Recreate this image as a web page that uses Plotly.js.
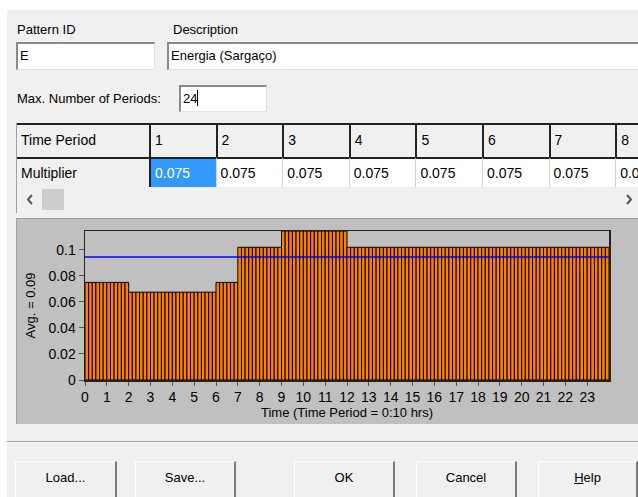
<!DOCTYPE html>
<html>
<head>
<meta charset="utf-8">
<script src="https://cdn.plot.ly/plotly-3.0.1.min.js"></script>
<style>
  html, body { margin:0; padding:0; width:638px; height:497px; overflow:hidden; background:#ffffff; font-family: Arial, "Liberation Sans", sans-serif; }
  #dlg { position:absolute; left:7px; top:10px; width:631px; height:487px; background:#f0f0f0; }
  .abs { position:absolute; }
  .lbl { position:absolute; font-size:13px; color:#000; white-space:nowrap; }
  .edit { position:absolute; background:#fff; box-sizing:border-box; border-top:2px solid #8a8a8a; border-left:2px solid #8a8a8a; border-bottom:1px solid #e3e3e3; border-right:1px solid #e3e3e3; font-size:13px; padding-left:2px; line-height:23px; white-space:nowrap; overflow:hidden; }
  .btn { position:absolute; box-sizing:border-box; background:#f0f0f0; border-top:1px solid #fff; border-left:1px solid #fff; border-right:2px solid #7a7a7a; border-bottom:2px solid #7a7a7a; font-size:13px; text-align:center; line-height:32px; }
  .cell { position:absolute; box-sizing:border-box; font-size:14px; white-space:nowrap; overflow:hidden; padding-left:4px; }
</style>
</head>
<body>
<div id="dlg"></div>
<div class="lbl" style="left:17px; top:22px;">Pattern ID</div>
<div class="lbl" style="left:173px; top:22px;">Description</div>
<div class="edit" style="left:16px; top:42px; width:139px; height:28px;">E</div>
<div class="edit" style="left:167px; top:42px; width:480px; height:28px;">Energia (Sargaço)</div>
<div class="lbl" style="left:17px; top:91px;">Max. Number of Periods:</div>
<div class="edit" style="left:179px; top:85px; width:88px; height:27px;">24<span style="display:inline-block;width:1px;height:16px;background:#000;vertical-align:-3px;"></span></div>

<div id="grid" class="abs" style="left:16px; top:123px; width:622px; height:90px; overflow:hidden; background:#f0f0f0; border-left:1px solid #a0a0a0; box-sizing:border-box;"></div>

<div id="chart" class="abs" style="left:16px; top:218px; width:622px; height:206px; background:#c0c0c0; border-top:1px solid #a0a0a0; border-left:1px solid #a0a0a0; box-sizing:border-box;"></div>

<div class="abs" style="left:7px; top:441px; width:631px; height:1px; background:#a0a0a0;"></div>
<div class="abs" style="left:7px; top:442px; width:631px; height:1px; background:#ffffff;"></div>

<div class="btn" style="left:15px; top:461px; width:102px; height:38px;">Load...</div>
<div class="btn" style="left:135px; top:461px; width:101px; height:38px;">Save...</div>
<div class="btn" style="left:294px; top:461px; width:101px; height:38px;">OK</div>
<div class="btn" style="left:416px; top:461px; width:101px; height:38px;">Cancel</div>
<div class="btn" style="left:538px; top:461px; width:100px; height:38px;"><u>H</u>elp</div>

<script>
// ---- Data ----
var patternId = "E";
var description = "Energia (Sargaço)";
var maxPeriods = 24;
var periodHours = 1/6; // 0:10 hrs
var multipliers = [
  0.075,0.075,0.075,0.075,0.075,0.075, 0.075,0.075,0.075,0.075,0.075,0.075,
  0.0675,0.0675,0.0675,0.0675,0.0675,0.0675, 0.0675,0.0675,0.0675,0.0675,0.0675,0.0675,
  0.0675,0.0675,0.0675,0.0675,0.0675,0.0675, 0.0675,0.0675,0.0675,0.0675,0.0675,0.0675,
  0.075,0.075,0.075,0.075,0.075,0.075,
  0.102,0.102,0.102,0.102,0.102,0.102, 0.102,0.102,0.102,0.102,0.102,0.102,
  0.1145,0.1145,0.1145,0.1145,0.1145,0.1145, 0.1145,0.1145,0.1145,0.1145,0.1145,0.1145,
  0.1145,0.1145,0.1145,0.1145,0.1145,0.1145,
  0.102,0.102,0.102,0.102,0.102,0.102, 0.102,0.102,0.102,0.102,0.102,0.102,
  0.102,0.102,0.102,0.102,0.102,0.102, 0.102,0.102,0.102,0.102,0.102,0.102,
  0.102,0.102,0.102,0.102,0.102,0.102, 0.102,0.102,0.102,0.102,0.102,0.102,
  0.102,0.102,0.102,0.102,0.102,0.102, 0.102,0.102,0.102,0.102,0.102,0.102,
  0.102,0.102,0.102,0.102,0.102,0.102, 0.102,0.102,0.102,0.102,0.102,0.102,
  0.102,0.102,0.102,0.102,0.102,0.102, 0.102,0.102,0.102,0.102,0.102,0.102
];
var gridPeriodLabels = ["1","2","3","4","5","6","7","8"];
var xTickVals = [0,1,2,3,4,5,6,7,8,9,10,11,12,13,14,15,16,17,18,19,20,21,22,23];
var yTickVals = [0,0.02,0.04,0.06,0.08,0.1];

// ---- Grid ----
(function(){
  var g = document.getElementById('grid');
  var html = '';
  var colW = 66.6, firstW = 132, hdrH = 34, rowH = 30;
  html += '<div class="cell" style="left:0;top:0;width:'+firstW+'px;height:'+hdrH+'px;line-height:30px;border-top:2px solid #222;">Time Period</div>';
  html += '<div class="cell" style="left:0;top:'+hdrH+'px;width:'+firstW+'px;height:'+rowH+'px;line-height:28px;border-top:2px solid #222;">Multiplier</div>';
  for (var i=0;i<gridPeriodLabels.length;i++){
    var x = firstW + i*colW;
    html += '<div class="cell" style="left:'+x+'px;top:0;width:'+(colW+1)+'px;height:'+hdrH+'px;line-height:30px;border-top:2px solid #222;border-left:2px solid #222;">'+gridPeriodLabels[i]+'</div>';
    var sel = (i===0);
    var bg = sel ? '#3399ff' : '#ffffff';
    var fg = sel ? '#ffffff' : '#000000';
    var bl = (i===0) ? '2px solid #222' : '1px solid #d4d4d4';
    html += '<div class="cell" style="left:'+x+'px;top:'+hdrH+'px;width:'+(colW+1)+'px;height:'+rowH+'px;line-height:28px;border-top:2px solid #222;border-left:'+bl+';background:'+bg+';color:'+fg+';">'+multipliers[i].toFixed(3)+'</div>';
  }
  var sy = hdrH + rowH + 1;
  html += '<div class="abs" style="left:0;top:'+sy+'px;width:622px;height:23px;background:#f0f0f0;"></div>';
  html += '<svg class="abs" style="left:9px;top:'+(sy+6)+'px;" width="8" height="11"><polyline points="6,1 2,5.5 6,10" fill="none" stroke="#555" stroke-width="2"/></svg>';
  html += '<div class="abs" style="left:25px;top:'+(sy+1)+'px;width:22px;height:21px;background:#cdcdcd;"></div>';
  html += '<svg class="abs" style="left:608px;top:'+(sy+6)+'px;" width="8" height="11"><polyline points="2,1 6,5.5 2,10" fill="none" stroke="#555" stroke-width="2"/></svg>';
  g.innerHTML = html;
})();

// ---- Chart ----
var avg = multipliers.reduce(function(a,b){return a+b;},0) / multipliers.length;
var yMax = Math.max.apply(null, multipliers);

var bars = {
  type: 'bar',
  y: multipliers,
  x0: periodHours/2,
  dx: periodHours,
  width: periodHours,
  marker: { color: '#ff8000', line: { color: '#000000', width: 1 } },
  hoverinfo: 'skip'
};
var avgLine = {
  type: 'scatter',
  mode: 'lines',
  x: [0, maxPeriods],
  y: [avg, avg],
  line: { color: '#0000ff', width: 1.5 },
  hoverinfo: 'skip'
};

var layout = {
  width: 621, height: 205,
  margin: { l: 68, r: 29, t: 12, b: 44 },
  paper_bgcolor: '#c0c0c0',
  plot_bgcolor: '#c0c0c0',
  showlegend: false,
  bargap: 0,
  font: { family: 'Arial, "Liberation Sans", sans-serif', size: 14, color: '#000' },
  xaxis: {
    range: [0, maxPeriods],
    tickvals: xTickVals,
    ticktext: xTickVals.map(String),
    ticks: 'outside', ticklen: 4, tickcolor: '#555',
    showgrid: false, zeroline: false,
    showline: true, mirror: true, linecolor: '#222', linewidth: 1.5,
    tickfont: { size: 14 },
    title: { text: 'Time (Time Period = 0:10 hrs)', font: { size: 13 }, standoff: 2 }
  },
  yaxis: {
    range: [0, yMax],
    tickvals: yTickVals,
    ticktext: ['0','0.02','0.04','0.06','0.08','0.1'],
    ticks: 'outside', ticklen: 5, tickcolor: '#555',
    showgrid: false, zeroline: false,
    showline: true, mirror: true, linecolor: '#222', linewidth: 1.5,
    tickfont: { size: 14 },
    title: { text: 'Avg. = ' + avg.toFixed(2), font: { size: 13 }, standoff: 10 }
  }
};
Plotly.newPlot('chart', [bars, avgLine], layout, { displayModeBar: false, staticPlot: true });
</script>
</body>
</html>
